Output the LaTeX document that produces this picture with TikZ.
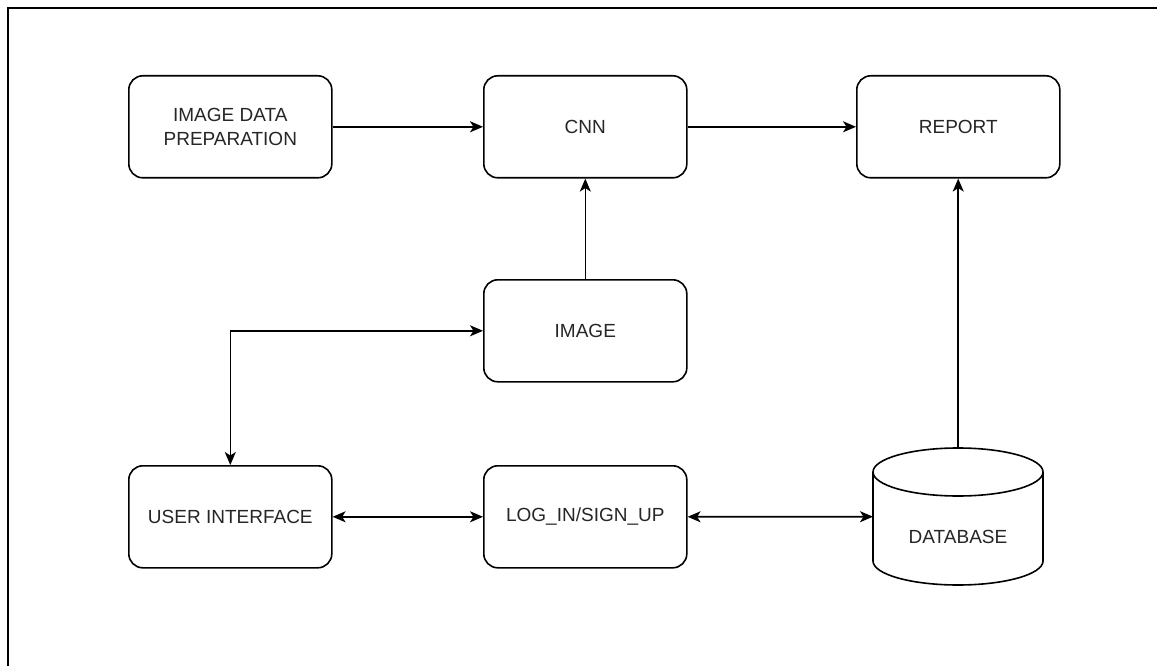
\documentclass[tikz,border=0pt]{standalone}
\usepackage{fontspec}
\setmainfont{Liberation Sans}
\usetikzlibrary{arrows.meta}
\begin{document}
\begin{tikzpicture}[x=1pt,y=-1pt,
  box/.style={draw, line width=1.6pt, rounded corners=14pt, minimum width=203pt, minimum height=102pt, inner sep=0pt, font=\fontsize{19}{24}\selectfont, align=center, anchor=north west, text=black!85},
  conn/.style={line width=1.6pt, -{Stealth[length=13pt,width=11pt,inset=3.5pt]}},
  dconn/.style={line width=1.6pt, {Stealth[length=13pt,width=11pt,inset=3.5pt]}-{Stealth[length=13pt,width=11pt,inset=3.5pt]}}]
\useasboundingbox (0,0) rectangle (1157,666);
\fill[white] (0,0) rectangle (1157,666);
\draw[line width=1.8pt] (8,670) -- (8,8) -- (1160,8);
\node[box] (prep) at (128,75) {IMAGE DATA\\PREPARATION};
\node[box] (cnn) at (483,75) {CNN};
\node[box] (report) at (856,75) {REPORT};
\node[box] (image) at (483,279) {IMAGE};
\node[box] (ui) at (128,465) {USER INTERFACE};
\node[box] (login) at (483,465) {LOG\_IN/SIGN\_UP};
% database cylinder
\node[minimum width=170pt, minimum height=137pt, inner sep=0pt, anchor=north west] (db) at (873,448) {};
\draw[line width=1.6pt] (873,472) -- (873,561) arc[start angle=180, end angle=360, x radius=85pt, y radius=24pt] -- (1043,472);
\draw[line width=1.6pt] (958,472) ellipse[x radius=85pt, y radius=24pt];
\node[font=\fontsize{19}{24}\selectfont, text=black!85] (dbtext) at (958,537) {DATABASE};
% connectors
\draw[conn] (prep.east) -- (cnn.west);
\draw[conn] (cnn.east) -- (report.west);
\draw[conn] (image.north) -- (cnn.south);
\draw[dconn] (ui.north) |- (image.west);
\draw[dconn] (ui.east) -- (login.west);
\draw[dconn] (login.east) -- (db.west);
\draw[conn] (db.north) -- (db.north |- report.south);
\end{tikzpicture}
\end{document}
